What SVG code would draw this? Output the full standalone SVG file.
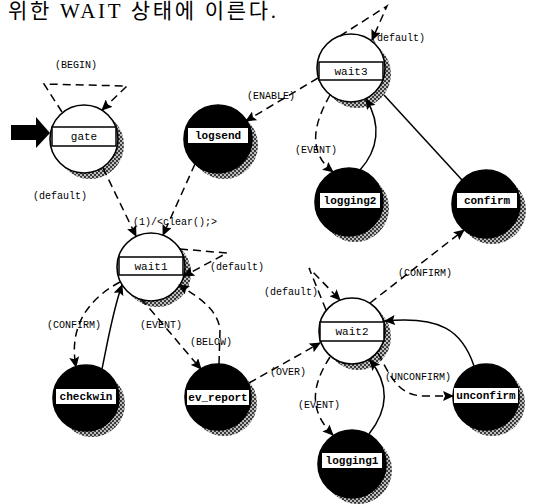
<svg xmlns="http://www.w3.org/2000/svg" width="539" height="504" viewBox="0 0 539 504">
  <style>
    .title { font-family: "Liberation Serif", "Noto Sans CJK KR", serif; font-size: 21px; fill: #000; }
    .ring { fill: #fff; stroke: #000; stroke-width: 1.6; }
    .solid-node { fill: #000; stroke: #000; stroke-width: 1.6; }
    .box { fill: #fff; stroke: #000; stroke-width: 1.5; }
    .box-in { fill: #fff; stroke: none; }
    .name { font-family: "Liberation Mono", "DejaVu Sans Mono", monospace; font-size: 11px; fill: #000; text-anchor: middle; }
    .name-b { font-family: "Liberation Mono", "DejaVu Sans Mono", monospace; font-size: 11px; font-weight: bold; fill: #000; text-anchor: middle; }
    .lbl { font-family: "Liberation Mono", "DejaVu Sans Mono", monospace; font-size: 10px; fill: #000; }
    .dash { fill: none; stroke: #000; stroke-width: 1.5; stroke-dasharray: 8 5; }
    .line { fill: none; stroke: #000; stroke-width: 1.5; }
    .arr { marker-end: url(#head); }
  </style>
  <defs>
    <pattern id="dots" x="0" y="0" width="4" height="4" patternUnits="userSpaceOnUse">
      <rect x="0" y="0" width="4" height="4" fill="#bdbdbd"/>
      <rect x="0" y="0" width="2" height="2" fill="#3a3a3a"/>
      <rect x="2" y="2" width="2" height="2" fill="#3a3a3a"/>
    </pattern>
    <marker id="head" markerUnits="userSpaceOnUse" markerWidth="11" markerHeight="10" refX="10" refY="5" orient="auto">
      <path d="M0,0 L11,5 L0,10 L2,5 z" fill="#000"/>
    </marker>
  </defs>

  <rect width="539" height="504" fill="#fff"/>

  <!-- heading line of body text -->
  <text class="title" x="8" y="18" textLength="268" lengthAdjust="spacing">위한 WAIT 상태에 이른다.</text>

  <!-- initial-state arrow -->
  <polygon points="11,125 36,125 36,117 50,133 36,148 36,140 11,140" fill="#000"/>

  <!-- stippled discs offset under each state -->
  <g id="drop" fill="url(#dots)" stroke="none">
    <circle cx="90" cy="145" r="34"/>
    <circle cx="357" cy="74" r="34"/>
    <circle cx="157" cy="273" r="34"/>
    <circle cx="358" cy="337" r="33"/>
    <circle cx="224" cy="145" r="34"/>
    <circle cx="355" cy="208" r="34"/>
    <circle cx="492" cy="210" r="34"/>
    <circle cx="92" cy="404" r="33"/>
    <circle cx="224" cy="403" r="33"/>
    <circle cx="492" cy="403" r="33"/>
    <circle cx="358" cy="470" r="34"/>
  </g>

  <!-- white states -->
  <g id="gate">
    <circle class="ring" cx="84" cy="139" r="34"/>
    <rect class="box" x="52" y="127" width="64" height="19"/>
    <text class="name" x="84" y="140">gate</text>
  </g>
  <g id="wait3">
    <circle class="ring" cx="351" cy="68" r="34"/>
    <rect class="box" x="319" y="62" width="64" height="18"/>
    <text class="name" x="351" y="75">wait3</text>
  </g>
  <g id="wait1">
    <circle class="ring" cx="151" cy="267" r="34"/>
    <rect class="box" x="119" y="257" width="64" height="18"/>
    <text class="name" x="151" y="270">wait1</text>
  </g>
  <g id="wait2">
    <circle class="ring" cx="352" cy="331" r="33"/>
    <rect class="box" x="320" y="322" width="64" height="19"/>
    <text class="name" x="352" y="335">wait2</text>
  </g>

  <!-- black states -->
  <g id="logsend">
    <circle class="solid-node" cx="218" cy="139" r="34"/>
    <rect class="box-in" x="188" y="128" width="60" height="15"/>
    <text class="name-b" x="218" y="139">logsend</text>
  </g>
  <g id="logging2">
    <circle class="solid-node" cx="349" cy="202" r="34"/>
    <rect class="box-in" x="320" y="193" width="60" height="15"/>
    <text class="name-b" x="350" y="204">logging2</text>
  </g>
  <g id="confirm">
    <circle class="solid-node" cx="486" cy="204" r="34"/>
    <rect class="box-in" x="457" y="193" width="60" height="15"/>
    <text class="name-b" x="487" y="204">confirm</text>
  </g>
  <g id="checkwin">
    <circle class="solid-node" cx="86" cy="398" r="33"/>
    <rect class="box-in" x="56" y="389" width="60" height="15"/>
    <text class="name-b" x="86" y="400">checkwin</text>
  </g>
  <g id="ev_report">
    <circle class="solid-node" cx="218" cy="397" r="33"/>
    <rect class="box-in" x="187" y="390" width="62" height="15"/>
    <text class="name-b" x="218" y="401">ev_report</text>
  </g>
  <g id="unconfirm">
    <circle class="solid-node" cx="486" cy="397" r="33"/>
    <rect class="box-in" x="454" y="388" width="64" height="15"/>
    <text class="name-b" x="486" y="399">unconfirm</text>
  </g>
  <g id="logging1">
    <circle class="solid-node" cx="352" cy="464" r="34"/>
    <rect class="box-in" x="322" y="453" width="60" height="15"/>
    <text class="name-b" x="352" y="464">logging1</text>
  </g>

  <!-- connectors drawn over the nodes so every arrowhead shows -->
  <g id="connectors">
    <path class="dash arr" d="M62,112 L44,84 L127,86 L102,110"/>
    <path class="dash arr" d="M340,36 L387,6 L372,40"/>
    <path class="dash arr" d="M318,78 L246,121"/>
    <path class="dash arr" d="M330,95 C316,120 305,150 333,172"/>
    <path class="line arr" d="M360,170 C378,150 382,125 366,99"/>
    <path class="line" d="M462,180 L384,95"/>
    <path class="dash arr" d="M103,168 L136,236"/>
    <path class="dash arr" d="M195,164 L163,235"/>
    <path class="dash arr" d="M180,249 L227,253 L184,276"/>
    <path class="dash arr" d="M120,282 C90,298 68,325 76,367"/>
    <path class="line arr" d="M102,369 C108,340 113,310 122,285"/>
    <path class="dash arr" d="M141,299 C160,320 180,345 201,369"/>
    <path class="dash arr" d="M219,364 L220,330 C218,310 200,298 179,285"/>
    <path class="dash arr" d="M249,383 L320,343"/>
    <path class="dash arr" d="M326,310 L309,268 L340,300"/>
    <path class="dash arr" d="M370,303 L464,230"/>
    <path class="line arr" d="M474,366 C462,330 440,316 385,321"/>
    <path class="dash arr" d="M378,353 C392,380 400,396 425,396 L453,396"/>
    <path class="dash arr" d="M330,357 C312,385 308,410 333,435"/>
    <path class="line arr" d="M369,434 C388,410 390,385 370,360"/>

    <text class="lbl" x="55" y="68">(BEGIN)</text>
    <text class="lbl" x="371" y="41">(default)</text>
    <text class="lbl" x="247" y="99">(ENABLE)</text>
    <text class="lbl" x="295" y="153">(EVENT)</text>
    <text class="lbl" x="33" y="199">(default)</text>
    <text class="lbl" x="133" y="225">(1)/&lt;clear();&gt;</text>
    <text class="lbl" x="210" y="270">(default)</text>
    <text class="lbl" x="47" y="328">(CONFIRM)</text>
    <text class="lbl" x="140" y="328">(EVENT)</text>
    <text class="lbl" x="190" y="345">(BELOW)</text>
    <text class="lbl" x="270" y="375">(OVER)</text>
    <text class="lbl" x="264" y="295">(default)</text>
    <text class="lbl" x="398" y="276">(CONFIRM)</text>
    <text class="lbl" x="385" y="380">(UNCONFIRM)</text>
    <text class="lbl" x="298" y="408">(EVENT)</text>
  </g>
</svg>
